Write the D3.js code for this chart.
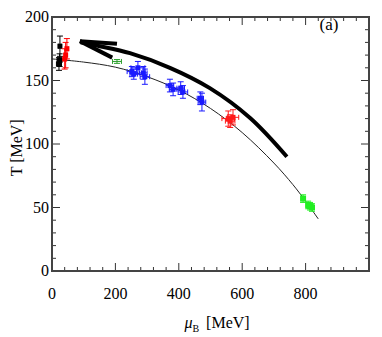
<!DOCTYPE html>
<html>
<head>
<meta charset="utf-8">
<script src="https://cdn.jsdelivr.net/npm/d3@7"></script>
<style>
  body { margin: 0; background: #fff; }
  text { font-family: "Liberation Serif", "Times New Roman", "DejaVu Serif", serif; }
</style>
</head>
<body>
<svg width="382" height="337"></svg>
<script>
var width = 382, height = 337;
var margin = { left: 52, top: 17, right: 13, bottom: 66 };

// axis ticks
var xMajorTicks = [0, 200, 400, 600, 800];
var yMajorTicks = [0, 50, 100, 150, 200];

// data points: mu_B, T, error in mu, error in T
var blackMu = [25, 24, 22];
var blackT = [177, 166, 163];
var blackDmu = [4, 8, 8];
var blackDT = [8, 5, 5];

var redLowMu = [47, 43, 40];
var redLowT = [175, 170, 167];
var redLowDmu = [4, 4, 4];
var redLowDT = [8, 10, 8];

var greenLowMu = [205];
var greenLowT = [165];
var greenLowDmu = [14];
var greenLowDT = [1.5];

var blueMu = [252, 271, 258, 293, 288, 372, 382, 413, 406, 473, 468];
var blueT = [157, 160, 155, 153, 156, 146, 143, 141, 144, 133, 136];
var blueDmu = [15, 22, 12, 15, 12, 12, 12, 15, 12, 12, 10];
var blueDT = [4, 5, 4, 6, 5, 5, 5, 5, 5, 7, 5];

var redHighMu = [556, 571, 562];
var redHighT = [120, 121, 118];
var redHighDmu = [20, 18, 15];
var redHighDT = [6, 6, 5];

var greenHighMu = [792, 814, 820, 808];
var greenHighT = [57, 51, 50, 52];
var greenHighDmu = [5, 10, 8, 6];
var greenHighDT = [3, 3, 3, 3];

// freeze-out curve
var curveMu = [0, 100, 200, 300, 400, 500, 600, 700, 760, 800, 840];
var curveT = [167, 164.5, 160.5, 153, 142.5, 128, 109, 85, 68, 55, 41];

// thick arrow path
var arrowMu = [741, 625, 498, 372, 246, 151, 90];
var arrowT = [90, 120.5, 144, 160, 171.5, 177, 180];
var arrowTip = [88, 181];
var arrowBarbUp = [205, 179];
var arrowBarbLow = [190, 168];

var svg = d3.select("svg")
  .attr("font-family", "Liberation Serif, Times New Roman, DejaVu Serif, serif");

var x = d3.scaleLinear().domain([0, 1000]).range([margin.left, width - margin.right]);
var y = d3.scaleLinear().domain([0, 200]).range([height - margin.bottom, margin.top]);

var x0 = x.range()[0], x1 = x.range()[1];
var y0 = y.range()[0], y1 = y.range()[1];

// ticks (inward on all four sides)
var xMinor = d3.range(0, 1001, 40);
var yMinor = d3.range(0, 201, 10);
var tickG = svg.append("g").attr("stroke", "#333").attr("stroke-width", 1);
xMinor.forEach(function (v) {
  var len = xMajorTicks.indexOf(v) >= 0 ? 8 : 4;
  tickG.append("line").attr("x1", x(v)).attr("x2", x(v)).attr("y1", y0).attr("y2", y0 - len);
  tickG.append("line").attr("x1", x(v)).attr("x2", x(v)).attr("y1", y1).attr("y2", y1 + len);
});
yMinor.forEach(function (v) {
  var len = yMajorTicks.indexOf(v) >= 0 ? 8 : 4;
  tickG.append("line").attr("y1", y(v)).attr("y2", y(v)).attr("x1", x0).attr("x2", x0 + len);
  tickG.append("line").attr("y1", y(v)).attr("y2", y(v)).attr("x1", x1).attr("x2", x1 - len);
});

// frame
svg.append("rect")
  .attr("x", x0).attr("y", y1)
  .attr("width", x1 - x0).attr("height", y0 - y1)
  .attr("fill", "none").attr("stroke", "#444").attr("stroke-width", 2);

// tick labels
svg.append("g").selectAll("text").data(xMajorTicks).enter().append("text")
  .attr("x", function (d) { return x(d); })
  .attr("y", y0 + 28)
  .attr("text-anchor", "middle")
  .attr("font-size", 16)
  .text(function (d) { return d; });
svg.append("g").selectAll("text").data(yMajorTicks).enter().append("text")
  .attr("x", x0 - 3)
  .attr("y", function (d) { return y(d) + 5; })
  .attr("text-anchor", "end")
  .attr("font-size", 16)
  .text(function (d) { return d; });

// axis titles
var xt = svg.append("text")
  .attr("x", 217).attr("y", 328)
  .attr("text-anchor", "middle")
  .attr("font-size", 16);
xt.append("tspan").attr("font-style", "italic").text("\u03bc");
xt.append("tspan").attr("font-size", 10).attr("dy", 4).text("B");
xt.append("tspan").attr("dy", -4).attr("dx", 7).text("[MeV]");

svg.append("text")
  .attr("transform", "translate(22," + y(97) + ") rotate(-90)")
  .attr("text-anchor", "middle")
  .attr("font-size", 16)
  .text("T [MeV]");

svg.append("text")
  .attr("x", 329).attr("y", 30)
  .attr("text-anchor", "middle")
  .attr("font-size", 17)
  .text("(a)");

// thin freeze-out curve
var line = d3.line()
  .x(function (d) { return x(d[0]); })
  .y(function (d) { return y(d[1]); })
  .curve(d3.curveCatmullRom);
svg.append("path")
  .datum(d3.zip(curveMu, curveT))
  .attr("d", line)
  .attr("fill", "none").attr("stroke", "#222").attr("stroke-width", 1);

// thick arrow
svg.append("path")
  .datum(d3.zip(arrowMu, arrowT))
  .attr("d", line)
  .attr("fill", "none").attr("stroke", "#000").attr("stroke-width", 4);
[arrowBarbUp, arrowBarbLow].forEach(function (b) {
  svg.append("line")
    .attr("x1", x(arrowTip[0])).attr("y1", y(arrowTip[1]))
    .attr("x2", x(b[0])).attr("y2", y(b[1]))
    .attr("stroke", "#000").attr("stroke-width", 4);
});

// data with error bars
function drawSeries(mu, T, dmu, dT, color, size) {
  var g = svg.append("g").attr("stroke", color).attr("fill", color);
  var data = d3.range(mu.length).map(function (i) {
    return { mu: mu[i], T: T[i], dmu: dmu[i], dT: dT[i] };
  });
  data.forEach(function (d) {
    var cx = x(d.mu), cy = y(d.T);
    var xa = x(d.mu - d.dmu), xb = x(d.mu + d.dmu);
    var ya = y(d.T - d.dT), yb = y(d.T + d.dT);
    g.append("line").attr("x1", xa).attr("x2", xb).attr("y1", cy).attr("y2", cy);
    g.append("line").attr("x1", cx).attr("x2", cx).attr("y1", ya).attr("y2", yb);
    g.append("line").attr("x1", xa).attr("x2", xa).attr("y1", cy - 2.5).attr("y2", cy + 2.5);
    g.append("line").attr("x1", xb).attr("x2", xb).attr("y1", cy - 2.5).attr("y2", cy + 2.5);
    g.append("line").attr("x1", cx - 3).attr("x2", cx + 3).attr("y1", ya).attr("y2", ya);
    g.append("line").attr("x1", cx - 3).attr("x2", cx + 3).attr("y1", yb).attr("y2", yb);
    if (size > 0) {
      g.append("rect")
        .attr("x", cx - size / 2).attr("y", cy - size / 2)
        .attr("width", size).attr("height", size)
        .attr("stroke", "none");
    }
  });
}

drawSeries(blackMu, blackT, blackDmu, blackDT, "#000", 5);
drawSeries(redLowMu, redLowT, redLowDmu, redLowDT, "#ff0000", 5);
drawSeries(greenLowMu, greenLowT, greenLowDmu, greenLowDT, "#2a9d2a", 0);
drawSeries(blueMu, blueT, blueDmu, blueDT, "#1a1aff", 5);
drawSeries(redHighMu, redHighT, redHighDmu, redHighDT, "#ff1a1a", 5);
drawSeries(greenHighMu, greenHighT, greenHighDmu, greenHighDT, "#22ee22", 6);
</script>
</body>
</html>
